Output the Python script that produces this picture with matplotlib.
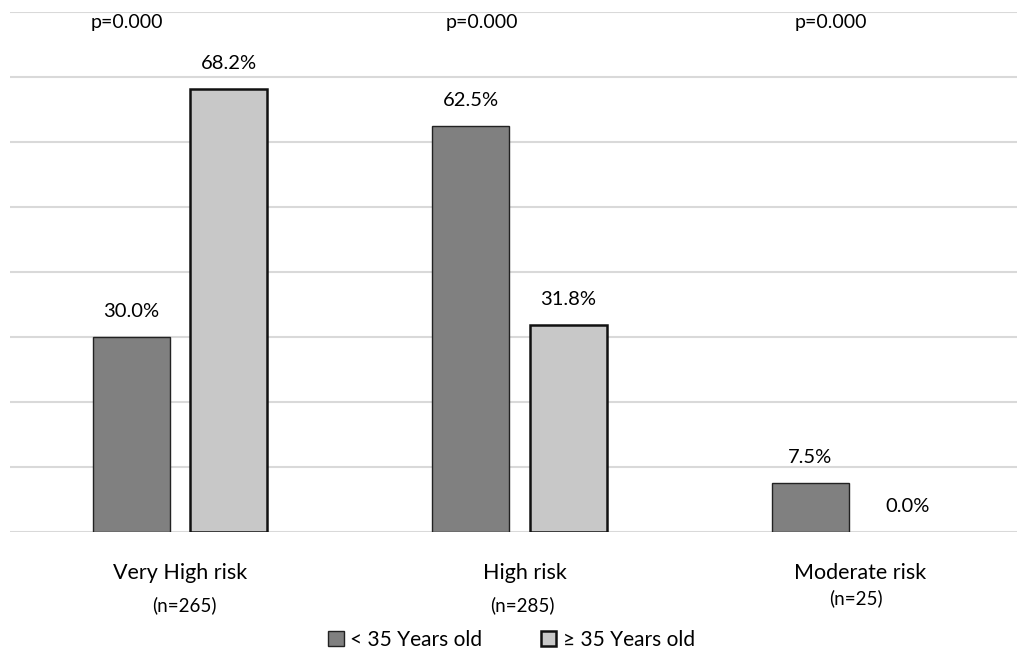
import numpy as np
import matplotlib.pyplot as plt
from matplotlib.patches import Patch

plt.rcParams['font.family'] = ['Lato', 'DejaVu Sans']

categories = ["Very High risk", "High risk", "Moderate risk"]
n_labels = ["(n=265)", "(n=285)", "(n=25)"]
under35 = [30.0, 62.5, 7.5]
over35 = [68.2, 31.8, 0.0]
p_labels = ["p=0.000", "p=0.000", "p=0.000"]
series_names = ["< 35 Years old", "\u2265 35 Years old"]

dark = "#808080"
light = "#C8C8C8"

fig = plt.figure(figsize=(10.17, 6.5), dpi=100)
ax = fig.add_axes([10 / 1017, 118 / 650, 1007 / 1017, 520 / 650])

x = np.arange(len(categories))
w = 0.227
off = 0.1435

b1 = ax.bar(x - off, under35, w, color=dark, edgecolor="#222222", linewidth=1.0, zorder=3)
b2 = ax.bar(x + off, over35, w, color=light, edgecolor="#111111", linewidth=1.8, zorder=3)
for r in list(b1) + list(b2):
    if r.get_height() == 0:
        r.set_linewidth(0)

# value labels
for xi, v in zip(x - off, under35):
    ax.text(xi, v + 3.9, f"{v:.1f}%", ha="center", va="center", fontsize=14.5)
for xi, v in zip(x + off, over35):
    ax.text(xi, v + 3.9, f"{v:.1f}%", ha="center", va="center", fontsize=14.5)

# p-values
p_off = [-0.156, -0.111, -0.082]
for xi, po, p in zip(x, p_off, p_labels):
    ax.text(xi + po, 78.4, p, ha="center", va="center", fontsize=14)

ax.set_xlim(-0.5, 2.465)
ax.set_ylim(0, 80)
ax.set_yticks(np.arange(0, 81, 10))
ax.yaxis.grid(True, color="#D9D9D9", linewidth=1.5, zorder=0)
ax.set_axisbelow(True)
ax.tick_params(left=False, bottom=False, labelleft=False, labelbottom=False)
for s in ax.spines.values():
    s.set_visible(False)

# category and n labels
trans = ax.get_xaxis_transform()
cat_dx = [0.0, 0.016, 0.003]
n_dx = [0.012, 0.01, -0.01]
n_y = [-0.141, -0.141, -0.127]
for xi, c, cd in zip(x, categories, cat_dx):
    ax.text(xi + cd, -0.079, c, ha="center", va="center", fontsize=15.5, transform=trans)
for xi, nl, nd, ny in zip(x, n_labels, n_dx, n_y):
    ax.text(xi + nd, ny, nl, ha="center", va="center", fontsize=13.5, transform=trans)

handles = [Patch(facecolor=dark, edgecolor="#222222", linewidth=1.0),
           Patch(facecolor=light, edgecolor="#111111", linewidth=1.8)]
fig.legend(handles, series_names, loc="center", bbox_to_anchor=(0.503, 0.016),
           ncol=2, frameon=False, fontsize=15, handlelength=0.75, handleheight=0.75,
           handletextpad=0.3, columnspacing=2.8)

fig.savefig("out.png", dpi=100)
